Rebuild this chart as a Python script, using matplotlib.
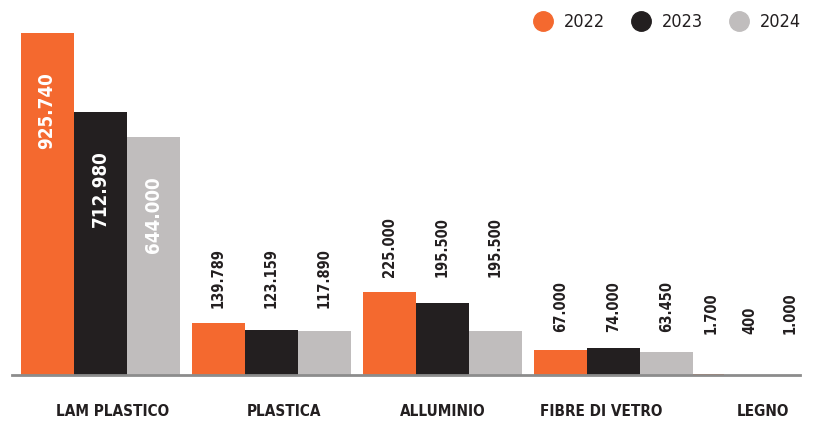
import matplotlib.pyplot as plt
import numpy as np

plt.rcParams['font.family'] = ['DejaVu Sans']
plt.rcParams['font.stretch'] = 'condensed'

categorie = ["LAM PLASTICO", "PLASTICA", "ALLUMINIO", "FIBRE DI VETRO", "LEGNO"]
anni = ["2022", "2023", "2024"]
v2022 = [925740, 139789, 225000, 67000, 1700]
v2023 = [712980, 123159, 195500, 74000, 400]
v2024 = [644000, 117890, 119000, 63450, 1000]   # barra grigia alluminio disegnata più bassa nell'originale
etich2024 = ["644.000", "117.890", "195.500", "63.450", "1.000"]
colori = ["#F4692F", "#231F20", "#C0BDBD"]

def fmt(v):
    return f"{v:,}".replace(",", ".")

fig = plt.figure(figsize=(8.17, 4.25), dpi=100)
ax = fig.add_axes([0.0147, 0.1176, 0.9643, 0.8047])

pos = np.array([0, 1, 2, 3, 3.8])
w = 0.31
serie = [v2022, v2023, v2024]
testi = [[fmt(v) for v in v2022], [fmt(v) for v in v2023], etich2024]

for i, vals in enumerate(serie):
    ax.bar(pos + (i - 1) * w, vals, width=w, color=colori[i], label=anni[i])

ax.set_xlim(-0.515, 4.09)
ax.set_ylim(0, 925740)

# etichette valori
for g in range(len(categorie)):
    gruppo = [s[g] for s in serie]
    passo = w if g < 4 else 0.23
    for i, v in enumerate(gruppo):
        x = pos[g] + (i - 1) * passo
        t = testi[i][g]
        if g == 0:
            ax.annotate(t, (x, v), xytext=(0, -28), textcoords='offset points',
                        rotation=90, ha='center', va='top', color='white',
                        fontsize=13.5, fontweight='bold', annotation_clip=False)
        else:
            base = max(max(gruppo), 70000)
            ax.annotate(t, (x, base), xytext=(0, 11), textcoords='offset points',
                        rotation=90, ha='center', va='bottom', color='#231F20',
                        fontsize=10.5, fontweight='bold', annotation_clip=False)

for s in ['top', 'right', 'left']:
    ax.spines[s].set_visible(False)
ax.spines['bottom'].set_color('#8C8C8C')
ax.spines['bottom'].set_linewidth(2)
ax.set_yticks([])
# etichette categorie leggermente spostate come nell'originale
ax.set_xticks(pos + np.array([0.07, 0.075, 0, -0.07, 0.075]))
ax.set_xticklabels(categorie, fontsize=11, fontweight='bold', color='#231F20')
ax.tick_params(axis='x', length=0, pad=21)

leg = fig.legend(handles=[plt.Line2D([], [], marker='o', ls='', ms=14, color=c) for c in colori],
                 labels=anni, loc='upper right', bbox_to_anchor=(1.0, 1.007), ncol=3,
                 frameon=False, fontsize=13, handletextpad=0.15, columnspacing=1.0,
                 labelcolor='#231F20')

fig.savefig("out.png", dpi=100)
